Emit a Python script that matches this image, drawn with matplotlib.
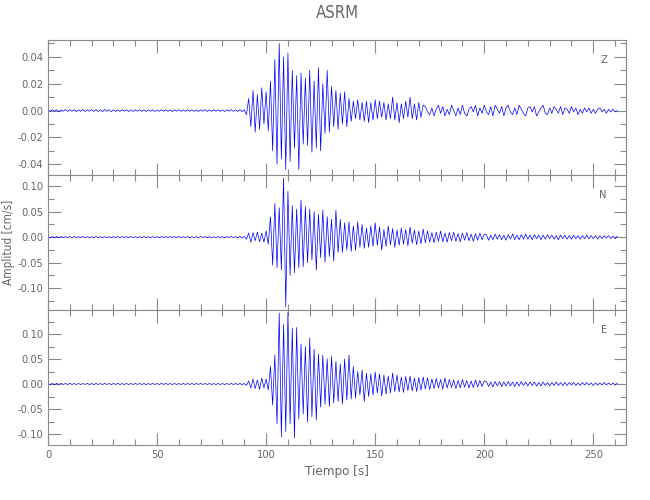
#!/usr/bin/env python3
"""
Three-component velocity record for station ASRM (Z, N, E).
"""

import numpy as np
import matplotlib
matplotlib.use("Agg")
import matplotlib.pyplot as plt
from matplotlib.ticker import MultipleLocator, FormatStrFormatter

# Amplitudes, one value per second, in units of 1e-3 cm/s
z_vals = [
    # 0-90 s pre-event noise
    0.5, -0.6, 0.7, -0.4, 0.6, -0.7, 0.5, -0.5, 0.8, -0.6,
    0.6, -0.5, 0.7, -0.8, 0.5, -0.6, 0.9, -0.7, 0.6, -0.5,
    0.7, -0.6, 0.8, -0.7, 0.6, -0.8, 0.9, -0.6, 0.7, -0.8,
    0.6, -0.7, 0.5, -0.6, 0.7, -0.5, 0.6, -0.7, 0.5, -0.6,
    0.6, -0.5, 0.7, -0.6, 0.5, -0.7, 0.6, -0.5, 0.6, -0.7,
    0.5, -0.6, 0.7, -0.5, 0.6, -0.6, 0.5, -0.7, 0.6, -0.5,
    0.7, -0.6, 0.5, -0.6, 0.7, -0.5, 0.6, -0.6, 0.5, -0.7,
    0.6, -0.5, 0.7, -0.6, 0.5, -0.6, 0.7, -0.5, 0.6, -0.6,
    0.5, -0.7, 0.6, -0.5, 0.7, -0.6, 0.5, -0.6, 0.7, -0.8, 0.6,
    # 91-101 s onset
    -3, 9, -12, 15, -16, 12, -14, 17, -10, 14, -15,
    # 102-138 s strong motion
    22, -30, 38, -40, 50, -36, 40, -44, 43, -38, 30,
    -28, 26, -44, 28, -25, 24, -26, 30, -31, 22, -28, 32, -30,
    20, -17, 30, -16, 18, -12, 15, -14, 13, -10, 14, -12, 9,
    # 139-172 s
    -8, 7, -6, 8, -7, 6, -8, 7, -9, 6, -7, 8, -6, 7, -5, 6, -7,
    5, -6, 10, -7, 6, -9, 5, -6, 7, -5, 10, -6, 5, -7, 6, -5, 4,
    # 173-261 s coda
    3, -1, -3, 2, -4, 1, 4, -2, 3, -4, 1, -3, 4, 0, -4, 2, -3, 4,
    -2, -4, 1, 3, -1, 4, -4, 2, -2, 4, -1, -3, 3, -4, 4, 1, -2, 3, -4, 2,
    4, -1, -3, 2, -3, 4, 1, -2, -4, 2, 3, -1, 3, -4, -1, 2, 4, -2, -3, 2,
    -2, 3, 1, -2, 3, -3, 2, 1, -2, 3, -1, 2, -3, 1, -2, 2, -1, 2, -2, 1,
    -2, 1, 2, -1, 1, -2, 1, -1, 1, -1, 0,
]

n_vals = [
    # 0-90 s pre-event noise
    1.0, -1.2, 0.9, -1.1, 1.3, -1.0, 1.1, -0.9, 1.2, -1.1,
    1.0, -1.3, 1.1, -1.0, 0.9, -1.2, 1.2, -1.0, 1.1, -1.2,
    1.0, -1.1, 1.3, -0.9, 1.0, -1.2, 1.1, -1.1, 0.9, -1.0,
    1.2, -1.1, 1.0, -1.2, 1.1, -0.9, 1.0, -1.1, 1.2, -1.0,
    1.1, -1.2, 0.9, -1.0, 1.2, -1.1, 1.0, -1.3, 1.1, -1.0,
    1.0, -1.1, 1.2, -1.0, 0.9, -1.2, 1.1, -1.0, 1.2, -1.1,
    1.1, -1.0, 1.0, -1.2, 1.3, -1.1, 1.0, -0.9, 1.1, -1.2,
    1.2, -1.0, 1.1, -1.1, 1.0, -1.2, 0.9, -1.1, 1.2, -1.0,
    1.0, -1.2, 1.1, -1.0, 1.2, -1.1, 1.0, -1.2, 1.3, -1.4, 1.2,
    # 91-101 s onset
    -4, 8, -10, 9, -7, 10, -9, 8, -10, 12, -14,
    # 102-134 s strong motion
    40, -55, 66, -60, 58, -65, 116, -137,
    90, -75, 62, -70, 55, -60, 73, -58,
    60, -50, 55, -45, 50, -65, 45,
    -40, 53, -49, 40, -38, 35, -47, 53, -30, 35,
    # 135-175 s
    -30, 28, -25, 30, -28, 22, -26, 30, -20, 25, -22,
    18, -20, 22, -18, 28, -16, 20, -25, 15, -18, 22, -15, 17, -20, 14,
    -16, 18, -14, 15, -17, 20, -12, 14, -15, 12, -13, 16, -11, 12, -10,
    # 176-200 s
    9, -11, 10, -8, 12, -9, 8, -10, 9, -7, 10, -8, 7, -9, 8, -6, 9, -7,
    6, -8, 7, -6, 8, -5, 6,
    # 201-261 s coda
    5, -6, 4, -5, 6, -4, 5, -5, 4, -6, 5, -4, 6, -5, 4, -5, 5, -4, 6, -4,
    4, -5, 5, -3, 4, -5, 4, -4, 5, -3, 4, -4, 3, -5, 4, -3, 4, -4, 3, -4,
    4, -3, 3, -4, 3, -3, 4, -3, 3, -3, 3, -4, 3, -3, 3, -2, 3, -3, 2, -3,
    2,
]

e_vals = [
    # 0-90 s pre-event noise
    0.9, -1.1, 1.0, -1.2, 1.1, -0.9, 1.2, -1.0, 1.0, -1.1,
    1.2, -1.0, 0.9, -1.1, 1.1, -1.2, 1.0, -0.9, 1.2, -1.1,
    1.0, -1.2, 1.1, -1.0, 0.9, -1.1, 1.2, -1.0, 1.1, -1.2,
    1.0, -1.0, 1.2, -1.1, 0.9, -1.2, 1.1, -1.0, 1.0, -1.1,
    1.2, -0.9, 1.0, -1.1, 1.1, -1.2, 0.9, -1.0, 1.2, -1.1,
    1.0, -1.1, 1.1, -0.9, 1.2, -1.0, 1.0, -1.2, 1.1, -1.0,
    0.9, -1.1, 1.2, -1.0, 1.0, -1.1, 1.1, -1.2, 1.0, -0.9,
    1.1, -1.0, 1.2, -1.1, 1.0, -1.0, 0.9, -1.2, 1.1, -1.1,
    1.0, -1.2, 1.1, -1.0, 1.2, -1.1, 1.0, -1.1, 1.2, -1.3, 1.1,
    # 91-101 s onset
    -3, 6, -8, 10, -9, 8, -11, 12, -8, 10, -12,
    # 102-140 s strong motion
    35, -42, 58, -80, 142, -106, 120, -95,
    143, -80, 112, -108, 113, -70,
    80, -60, 75, -76, 92, -65, 70, -72, 60,
    -46, 58, -40, 50, -45, 55, -38,
    45, -35, 40, -40, 50, -32, 58, -30, 35,
    # 141-175 s
    -28, 25, -22, 28, -35, 22, -25, 20, -22, 24, -18, 20, -24, 18, -20,
    16, -18, 22, -15, 18, -16, 14, -17, 15, -13, 16, -14, 12, -15, 13,
    -12, 14, -10, 12, -11,
    # 176-200 s
    10, -9, 11, -8, 9, -10, 12, -8, 9, -7, 8, -9, 7, -8, 9, -6, 7, -8,
    6, -7, 8, -6, 7, -5, 6,
    # 201-261 s coda
    5, -5, 4, -6, 5, -4, 5, -5, 4, -4, 5, -4, 4, -5, 4, -4, 5, -3, 4, -4,
    4, -3, 4, -4, 3, -4, 4, -3, 3, -4, 3, -3, 4, -3, 3, -3, 3, -3, 3, -2,
    3, -3, 2, -3, 3, -2, 3, -2, 2, -3, 2, -2, 2, -2, 3, -2, 2, -2, 2, -2,
    2,
]

components = ["Z", "N", "E"]
y_limits = [(-0.048, 0.0526), (-0.143, 0.122), (-0.122, 0.148)]
y_major = [0.02, 0.05, 0.05]
y_minor = [0.01, 0.025, 0.025]

plt.rcParams["font.family"] = ["DejaVu Sans"]
plt.rcParams["font.stretch"] = "condensed"
plt.rcParams["font.weight"] = "light"
axis_gray = "#8a8a8a"
text_gray = "#666666"

fig = plt.figure(figsize=(6.5, 5), dpi=100)

left, width = 48 / 650, 578 / 650
panel_h = 135 / 500
bottoms = [1 - 175 / 500, 1 - 310 / 500, 1 - 445 / 500]

axes = []
for i, (comp, vals) in enumerate(zip(components, [z_vals, n_vals, e_vals])):
    ax = fig.add_axes([left, bottoms[i], width, panel_h],
                      sharex=axes[0] if axes else None)
    axes.append(ax)
    amp = np.array(vals) * 1e-3
    t = np.arange(len(amp))
    ax.plot(t, amp, color="#0000ff", linewidth=0.5)

    ax.set_xlim(0, 265)
    ax.set_ylim(*y_limits[i])
    ax.xaxis.set_major_locator(MultipleLocator(50))
    ax.xaxis.set_minor_locator(MultipleLocator(10))
    ax.yaxis.set_major_locator(MultipleLocator(y_major[i]))
    ax.yaxis.set_minor_locator(MultipleLocator(y_minor[i]))
    ax.yaxis.set_major_formatter(FormatStrFormatter("%.2f"))

    ax.tick_params(which="both", direction="in", top=True, right=True,
                   color=axis_gray, labelcolor=text_gray, labelsize=8,
                   width=0.8)
    ax.tick_params(which="major", length=9)
    ax.tick_params(which="minor", length=4.5)
    for spine in ax.spines.values():
        spine.set_color(axis_gray)
        spine.set_linewidth(0.8)

    if i < 2:
        ax.tick_params(labelbottom=False)

    ax.text(0.967, 0.85, comp, transform=ax.transAxes, ha="right",
            va="center", color=text_gray, fontsize=8)

axes[2].set_xlabel("Tiempo [s]", color=text_gray, fontsize=9.5, labelpad=4)
axes[1].set_ylabel("Amplitud [cm/s]", color=text_gray, fontsize=8.5,
                   va="center")
axes[1].yaxis.set_label_coords(-(48 - 9) / 578, 0.5)
fig.text(337 / 650, 1 - 13 / 500, "ASRM", ha="center", va="center",
         color=text_gray, fontsize=12)

fig.savefig("out.png", dpi=100)
plt.close(fig)
